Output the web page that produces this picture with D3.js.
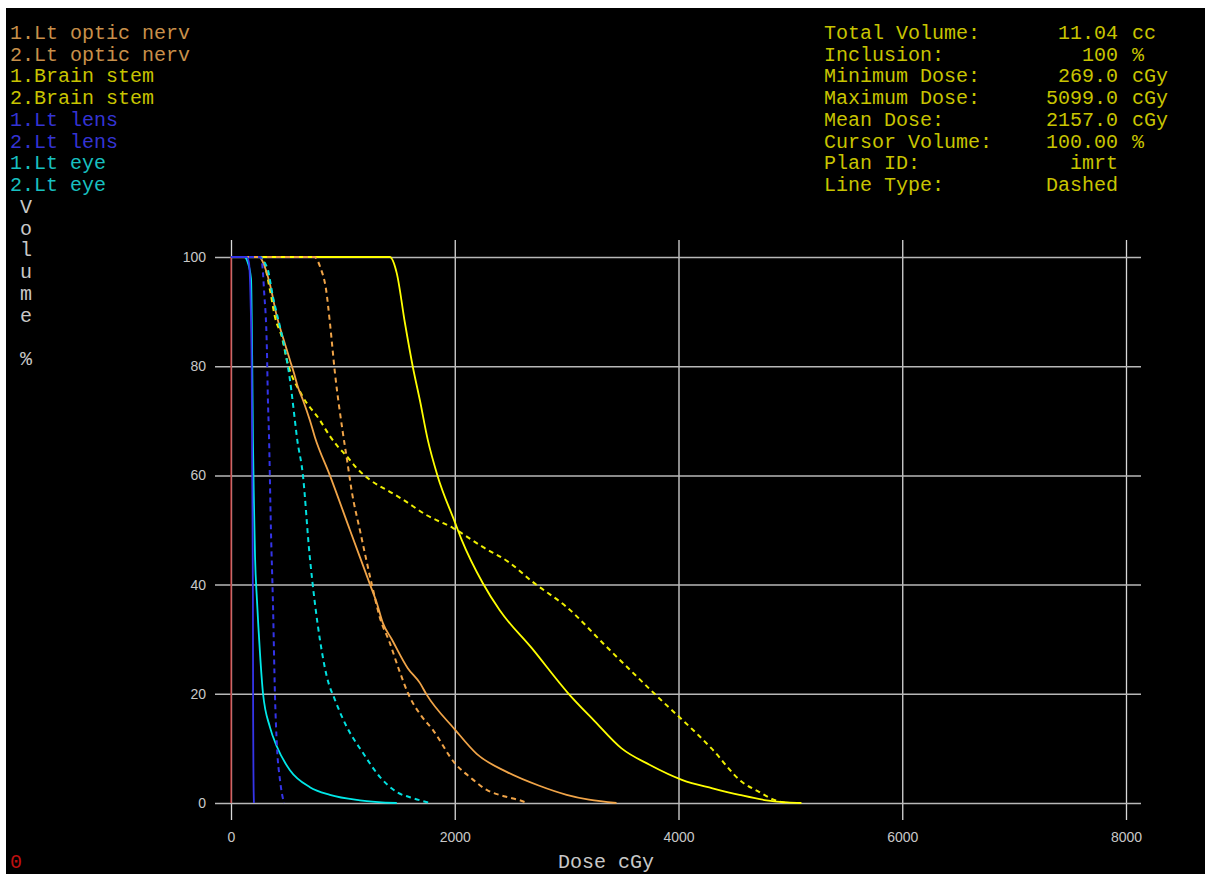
<!DOCTYPE html>
<html><head><meta charset="utf-8">
<script src="https://cdn.jsdelivr.net/npm/d3@7"></script>
<style>html,body{margin:0;padding:0;background:#fff;}svg{display:block;}</style>
</head><body>
<script>
// ---- data ----
const xTicks = [0, 2000, 4000, 6000, 8000];
const yTicks = [0, 20, 40, 60, 80, 100];
const legendNames = ["1.Lt optic nerv","2.Lt optic nerv","1.Brain stem","2.Brain stem","1.Lt lens","2.Lt lens","1.Lt eye","2.Lt eye"];
const infoLabels = ["Total Volume:","Inclusion:","Minimum Dose:","Maximum Dose:","Mean Dose:","Cursor Volume:","Plan ID:","Line Type:"];
const infoValues = ["11.04","100","269.0","5099.0","2157.0","100.00","imrt","Dashed"];
const infoUnits = ["cc","%","cGy","cGy","cGy","%","",""];

// [dose cGy, volume %]
const opticNerv1 = [[0,100],[255,100],[286,99],[348,95],[411,89],[464,85.3],[527,81.1],[562,78.8],[598,76.2],[643,73.8],[705,70.1],[750,67],[884,60],[1063,50],[1243,40],[1304,36.6],[1357,33],[1437,30],[1580,24.7],[1688,22],[1750,19.8],[2000,13.5],[2196,9],[2464,5.7],[2750,3.2],[3000,1.5],[3200,0.6],[3446,0]];
const opticNerv2 = [[0,100],[745,100],[800,98],[850,94],[884,88],[929,78.8],[1000,67.8],[1036,63],[1080,57],[1152,50],[1259,40],[1330,34],[1420,29.3],[1500,24.5],[1598,19.4],[1700,16],[1804,13.4],[2000,7.3],[2150,4.5],[2286,2.4],[2450,1.2],[2580,0.5],[2650,0]];
const brainStem1 = [[0,100],[1420,100],[1482,97],[1554,88],[1625,79.9],[1688,73.8],[1759,66.5],[1845,60],[2000,51.5],[2062,48.2],[2250,40.3],[2402,35.3],[2687,28.4],[3018,20],[3250,15],[3491,10],[3741,7],[4036,4.2],[4304,2.7],[4545,1.5],[4786,0.5],[4973,0.1],[5099,0]];
const brainStem2 = [[0,100],[270,100],[348,94],[393,89],[455,85.3],[500,81.1],[634,74.7],[795,70.1],[884,67.2],[950,65.4],[1027,63.7],[1130,61.2],[1241,59.2],[1420,57],[1527,55.7],[1750,52.7],[1982,50.4],[2250,46.9],[2491,44],[2696,40.5],[3000,35.9],[3357,28.6],[3786,20],[4295,10],[4571,3.8],[4723,2],[4839,0.7],[4960,0]];
const lens1 = [[0,100],[140,100],[160,99],[175,92],[185,80],[190,60],[196,37],[198,15],[201,5],[205,0]];
const lens2 = [[0,100],[260,100],[277,99],[286,97],[295,94],[321,83],[330,73.8],[339,67.8],[357,50],[375,36.6],[393,19.8],[411,10.3],[438,4.2],[473,0]];
const eye1 = [[0,100],[120,100],[150,99],[179,96],[190,80],[196,66.5],[205,55],[215,45],[232,37.2],[259,27.5],[286,20.1],[348,13.9],[411,10.3],[527,6],[705,2.9],[884,1.5],[1152,0.5],[1482,0]];
const eye2 = [[0,100],[260,100],[300,99],[330,97.6],[375,92.7],[438,87.2],[482,83],[527,77.5],[571,70.1],[589,67],[643,60],[700,46],[750,36.6],[795,29.9],[857,23.1],[929,18.9],[1036,13.9],[1179,9.2],[1330,4.8],[1482,2],[1625,0.9],[1777,0]];

const seriesData = [opticNerv1, opticNerv2, brainStem1, brainStem2, lens1, lens2, eye1, eye2];
const lineColors = ["#f0a448","#f0a448","#ffff00","#f0f000","#3434e8","#3434e8","#00e8e8","#00e0e0"];
const textColors = ["#c8904a","#c8904a","#c8c400","#c8c400","#3434d4","#3434d4","#18c0c0","#18c0c0"];
const dashed = [false,true,false,true,false,true,false,true];

// ---- drawing ----
const W = 1205, H = 874;
const svg = d3.select("body").append("svg").attr("width", W).attr("height", H);
svg.append("rect").attr("x",0).attr("y",0).attr("width",W).attr("height",H).attr("fill","#fff");
svg.append("rect").attr("x",6).attr("y",8).attr("width",W-6).attr("height",H-8).attr("fill","#000");

const mono = "'Liberation Mono','DejaVu Sans Mono',monospace";
const sans = "'Liberation Sans','DejaVu Sans',sans-serif";

const x = d3.scaleLinear().domain([0, 8000]).range([231, 1126]);
const y = d3.scaleLinear().domain([0, 100]).range([803, 257]);

// vertical grid via x axis
const xAxisG = svg.append("g").attr("transform","translate(0,820)")
  .call(d3.axisBottom(x).tickValues(xTicks).tickSizeInner(-580).tickSizeOuter(0).tickPadding(10).tickFormat(d3.format("d")));
xAxisG.select(".domain").remove();
xAxisG.selectAll(".tick line").attr("stroke","#d8d8d8").attr("stroke-width",1.3);
xAxisG.selectAll(".tick text").attr("fill","#c8c8c8").attr("font-family",sans).attr("font-size",14).attr("y",22).attr("dy","0");

// horizontal grid via y axis
const yAxisG = svg.append("g").attr("transform","translate(215,0)")
  .call(d3.axisLeft(y).tickValues(yTicks).tickSizeInner(-926).tickSizeOuter(0).tickPadding(9).tickFormat(d3.format("d")));
yAxisG.select(".domain").remove();
yAxisG.selectAll(".tick line").attr("stroke","#b8b8b8").attr("stroke-width",1.5);
yAxisG.selectAll(".tick text").attr("fill","#c8c8c8").attr("font-family",sans).attr("font-size",14);

// red y axis line
svg.append("line").attr("x1",x(0)).attr("x2",x(0)).attr("y1",y(100)).attr("y2",y(0))
  .attr("stroke","#c02020").attr("stroke-width",1.2);

// curves
const line = d3.line().x(d => x(d[0])).y(d => y(d[1])).curve(d3.curveMonotoneX);
const drawOrder = [3,2,1,0,7,6,5,4];
drawOrder.forEach(i => {
  svg.append("path").datum(seriesData[i]).attr("d", line)
    .attr("fill","none").attr("stroke", lineColors[i]).attr("stroke-width", dashed[i] ? 2 : 1.8)
    .attr("stroke-dasharray", dashed[i] ? "5,4" : null);
});

// legend
svg.append("g").selectAll("text").data(legendNames).join("text")
  .attr("x",10).attr("y",(d,i)=>39 + i*21.7)
  .attr("fill",(d,i)=>textColors[i]).attr("font-family",mono).attr("font-size",20)
  .text(d=>d);

// info panel
const info = svg.append("g");
info.selectAll("text.lab").data(infoLabels).join("text").attr("class","lab")
  .attr("x",824).attr("y",(d,i)=>39 + i*21.7).attr("fill","#c8c400")
  .attr("font-family",mono).attr("font-size",20).text(d=>d);
info.selectAll("text.val").data(infoValues).join("text").attr("class","val")
  .attr("x",1118).attr("y",(d,i)=>39 + i*21.7).attr("fill","#c8c400").attr("text-anchor","end")
  .attr("font-family",mono).attr("font-size",20).text(d=>d);
info.selectAll("text.unit").data(infoUnits).join("text").attr("class","unit")
  .attr("x",1132).attr("y",(d,i)=>39 + i*21.7).attr("fill","#c8c400")
  .attr("font-family",mono).attr("font-size",20).text(d=>d);

// vertical y label
const yLabelChars = ["V","o","l","u","m","e","","%"];
svg.append("g").selectAll("text").data(yLabelChars).join("text")
  .attr("x",26).attr("y",(d,i)=>213 + i*21.7).attr("text-anchor","middle")
  .attr("fill","#c8c8c8").attr("font-family",mono).attr("font-size",20).text(d=>d);

// x label
svg.append("text").attr("x",558).attr("y",868).attr("fill","#c8c8c8")
  .attr("font-family",mono).attr("font-size",20).text("Dose cGy");

// red 0 at bottom-left
svg.append("text").attr("x",10).attr("y",868).attr("fill","#c01010")
  .attr("font-family",mono).attr("font-size",20).text("0");
</script>
</body></html>
